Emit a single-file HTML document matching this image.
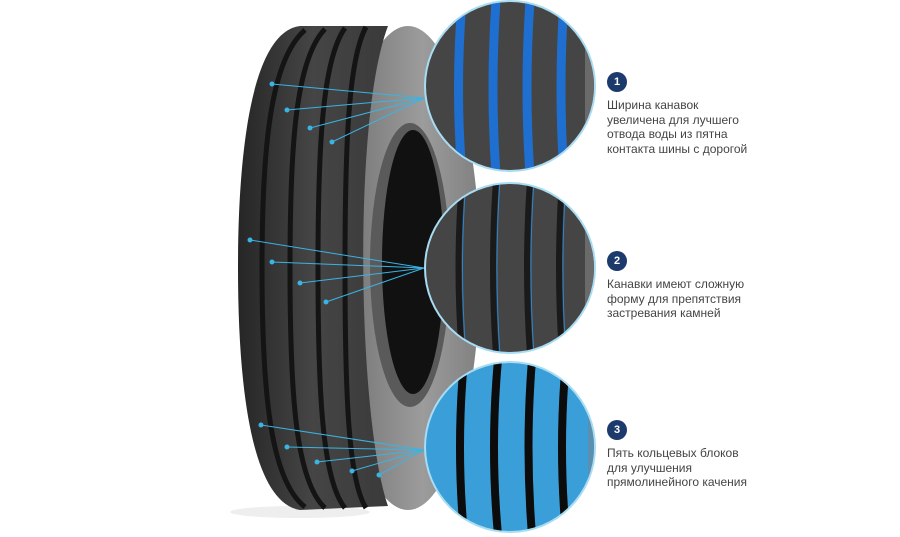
<!DOCTYPE html>
<html><head><meta charset="utf-8"><style>
html,body{margin:0;padding:0;background:#fff;width:900px;height:537px;overflow:hidden}
.t{position:absolute;left:607px;font:12px/14.5px "Liberation Sans",sans-serif;color:#444}
.b{position:absolute;left:607px;width:20px;height:20px;border-radius:50%;background:#1c3a6b;color:#fff;font:bold 11px/20px "Liberation Sans",sans-serif;text-align:center}
</style></head><body>
<svg width="900" height="537" style="position:absolute;left:0;top:0">
<defs>
<linearGradient id="tr" x1="0" x2="1"><stop offset="0" stop-color="#262626"/><stop offset=".5" stop-color="#454545"/><stop offset="1" stop-color="#3a3a3a"/></linearGradient>
<linearGradient id="sw" x1="0" x2="1"><stop offset="0" stop-color="#707070"/><stop offset=".6" stop-color="#9c9c9c"/><stop offset="1" stop-color="#808080"/></linearGradient>
<clipPath id="c1"><circle cx="510" cy="86" r="84"/></clipPath>
<clipPath id="c2"><circle cx="510" cy="268" r="84"/></clipPath>
<clipPath id="c3"><circle cx="510" cy="447" r="84"/></clipPath>
</defs>
<ellipse cx="300" cy="512" rx="70" ry="6" fill="#eee"/>
<ellipse cx="408" cy="268" rx="72" ry="242" fill="url(#sw)"/>
<ellipse cx="410" cy="265" rx="40" ry="142" fill="#5a5a5a"/>
<ellipse cx="413" cy="262" rx="31" ry="132" fill="#111"/>
<path d="M300 26 C252 32 238 150 238 268 C238 390 252 502 300 510 L388 506 C358 420 352 120 388 26 Z" fill="url(#tr)"/>
<g stroke="#141414" stroke-width="5" fill="none">
<path d="M305 30 C270 60 262 150 262 268 C262 390 270 480 305 507"/>
<path d="M325 29 C295 60 290 150 290 268 C290 390 295 480 325 508"/>
<path d="M345 28 C322 60 318 150 318 268 C318 390 322 480 345 508"/>
<path d="M366 27 C348 60 345 150 345 268 C345 390 348 480 366 508"/>
</g>
<g stroke="#3ab4e4" stroke-width="1" fill="#3ab4e4">
<line x1="272" y1="84" x2="424" y2="98"/><line x1="287" y1="110" x2="424" y2="98"/><line x1="310" y1="128" x2="424" y2="98"/><line x1="332" y1="142" x2="424" y2="98"/>
<circle cx="272" cy="84" r="2"/><circle cx="287" cy="110" r="2"/><circle cx="310" cy="128" r="2"/><circle cx="332" cy="142" r="2"/>
<line x1="250" y1="240" x2="424" y2="268"/><line x1="272" y1="262" x2="424" y2="268"/><line x1="300" y1="283" x2="424" y2="268"/><line x1="326" y1="302" x2="424" y2="268"/>
<circle cx="250" cy="240" r="2"/><circle cx="272" cy="262" r="2"/><circle cx="300" cy="283" r="2"/><circle cx="326" cy="302" r="2"/>
<line x1="261" y1="425" x2="424" y2="450"/><line x1="287" y1="447" x2="424" y2="450"/><line x1="317" y1="462" x2="424" y2="450"/><line x1="352" y1="471" x2="424" y2="450"/><line x1="379" y1="475" x2="424" y2="450"/>
<circle cx="261" cy="425" r="2"/><circle cx="287" cy="447" r="2"/><circle cx="317" cy="462" r="2"/><circle cx="352" cy="471" r="2"/><circle cx="379" cy="475" r="2"/>
</g>
<circle cx="510" cy="86" r="86" fill="#a8dcf2"/>
<g clip-path="url(#c1)"><rect x="420" y="0" width="180" height="175" fill="#454545"/>
<g stroke="#1f6fd0" stroke-width="9" fill="none"><path d="M462 0 Q455 90 462 175"/><path d="M496 0 Q490 90 496 175"/><path d="M530 0 Q524 90 530 175"/><path d="M564 0 Q558 90 564 175"/></g>
<rect x="585" y="0" width="20" height="175" fill="#6a6a6a"/></g>
<circle cx="510" cy="268" r="86" fill="#a8dcf2"/>
<g clip-path="url(#c2)"><rect x="420" y="180" width="180" height="175" fill="#454545"/>
<g stroke="#1a1a1a" stroke-width="6" fill="none"><path d="M462 180 Q455 268 462 355"/><path d="M496 180 Q490 268 496 355"/><path d="M530 180 Q524 268 530 355"/><path d="M562 180 Q556 268 562 355"/></g>
<g stroke="#2a86d0" stroke-width="1" fill="none"><path d="M466 180 Q459 268 466 355"/><path d="M500 180 Q494 268 500 355"/><path d="M534 180 Q528 268 534 355"/><path d="M566 180 Q560 268 566 355"/></g>
<rect x="585" y="180" width="20" height="175" fill="#6a6a6a"/></g>
<circle cx="510" cy="447" r="86" fill="#a8dcf2"/>
<g clip-path="url(#c3)"><rect x="420" y="360" width="180" height="175" fill="#3a9fd8"/>
<g stroke="#0c0c0c" stroke-width="8" fill="none"><path d="M464 360 Q456 447 464 535"/><path d="M498 360 Q490 447 498 535"/><path d="M532 360 Q525 447 532 535"/><path d="M566 360 Q558 447 566 535"/></g>
<rect x="588" y="360" width="20" height="175" fill="#5a8fb0"/></g>
</svg>
<div class="b" style="top:72px">1</div>
<div class="t" style="top:98px">Ширина канавок<br>увеличена для лучшего<br>отвода воды из пятна<br>контакта шины с дорогой</div>
<div class="b" style="top:251px">2</div>
<div class="t" style="top:277px">Канавки имеют сложную<br>форму для препятствия<br>застревания камней</div>
<div class="b" style="top:420px">3</div>
<div class="t" style="top:446px">Пять кольцевых блоков<br>для улучшения<br>прямолинейного качения</div>
</body></html>
